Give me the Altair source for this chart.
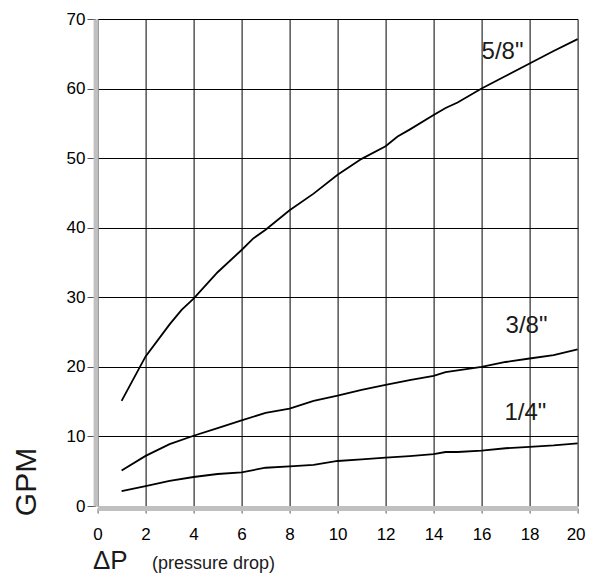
import altair as alt
import pandas as pd

# ---- data ----
x_58 = [1, 2, 3, 3.5, 4, 5, 6, 6.5, 7, 8, 9, 10, 11, 12, 12.5, 13, 14, 14.5, 15, 16, 17, 18, 19, 20]
y_58 = [15.1, 21.5, 26.1, 28.2, 29.8, 33.6, 36.8, 38.5, 39.7, 42.5, 44.9, 47.6, 49.9, 51.7, 53.1, 54.1,
        56.2, 57.2, 58.0, 60.0, 61.8, 63.6, 65.4, 67.1]

x_38 = [1, 2, 3, 4, 5, 6, 7, 8, 9, 10, 11, 12, 13, 14, 14.5, 15, 16, 17, 18, 19, 20]
y_38 = [5.1, 7.2, 8.9, 10.1, 11.2, 12.3, 13.4, 14.0, 15.1, 15.85, 16.7, 17.4, 18.1, 18.7, 19.25, 19.5,
        20.0, 20.7, 21.2, 21.7, 22.5]

x_14 = [1, 2, 3, 4, 5, 6, 7, 8, 9, 10, 11, 12, 13, 14, 14.5, 15, 16, 17, 18, 19, 20]
y_14 = [2.15, 2.87, 3.6, 4.17, 4.6, 4.84, 5.5, 5.7, 5.9, 6.47, 6.7, 6.94, 7.18, 7.47, 7.76, 7.76,
        7.95, 8.3, 8.5, 8.7, 9.0]

series_names = ['5/8"', '3/8"', '1/4"']
label_x = [16.0, 17.0, 16.95]
label_y = [64.2, 24.9, 12.4]

x_ticks = list(range(0, 21))
y_ticks = [0, 10, 20, 30, 40, 50, 60, 70]

# ---- build tables ----
rows = []
for name, xs, ys in zip(series_names, [x_58, x_38, x_14], [y_58, y_38, y_14]):
    for a, b in zip(xs, ys):
        rows.append({"series": name, "dp": a, "gpm": b})
df = pd.DataFrame(rows)
labels = pd.DataFrame({"series": series_names, "dp": label_x, "gpm": label_y})

FONT = "Liberation Sans"
GRAY = "#c0c0c0"

xscale = alt.Scale(domain=[0, 20], nice=False, zero=False)
yscale = alt.Scale(domain=[0, 70], nice=False, zero=True)

x_axis = alt.Axis(
    values=x_ticks, labelExpr="datum.value % 2 === 0 ? datum.label : ''",
    grid=True, gridColor="black", gridOpacity=1, gridWidth=1,
    domainColor=GRAY, domainWidth=5, offset=2,
    tickColor="#555555", tickSize=5, tickWidth=1,
    labelFont=FONT, labelFontSize=17, labelColor="black", labelPadding=13,
    labelOffset={"condition": {"test": "datum.value === 20", "value": -2}, "value": 0},
    labelFlush=False, labelOverlap=False, title=None,
)
y_axis = alt.Axis(
    values=y_ticks,
    grid=True, gridColor="black", gridOpacity=1, gridWidth=1,
    domainColor=GRAY, domainWidth=5, offset=2,
    tickColor="#555555", tickSize=8.6, tickWidth=1,
    labelFont=FONT, labelFontSize=17, labelColor="black", labelPadding=2,
    labelFlush=False, labelOverlap=False, title=None,
)

lines = alt.Chart(df).mark_line(color="black", strokeWidth=1.8).encode(
    x=alt.X("dp:Q", scale=xscale, axis=x_axis),
    y=alt.Y("gpm:Q", scale=yscale, axis=y_axis),
    detail="series:N",
)

curve_labels = alt.Chart(labels).mark_text(
    align="left", baseline="alphabetic", font=FONT, fontSize=24, color="#1a1a1a"
).encode(
    x=alt.X("dp:Q", scale=xscale),
    y=alt.Y("gpm:Q", scale=yscale),
    text="series:N",
)

gpm_title = alt.Chart(pd.DataFrame({"t": ["GPM"]})).mark_text(
    font=FONT, fontSize=30, angle=270, align="center", baseline="middle", color="#1a1a1a"
).encode(text="t:N", x=alt.value(-71), y=alt.value(463))

dp_title = alt.Chart(pd.DataFrame({"t": ["ΔP"]})).mark_text(
    font=FONT, fontSize=26, align="left", baseline="alphabetic", color="#1a1a1a"
).encode(text="t:N", x=alt.value(-4.6), y=alt.value(550))

pd_title = alt.Chart(pd.DataFrame({"t": ["(pressure drop)"]})).mark_text(
    font=FONT, fontSize=18, align="left", baseline="alphabetic", color="#1a1a1a"
).encode(text="t:N", x=alt.value(54.4), y=alt.value(550))

chart = alt.layer(lines, curve_labels, gpm_title, dp_title, pd_title).properties(
    width=480, height=487,
    autosize=alt.AutoSizeParams(type="none"),
    padding={"left": 89.6, "top": 11, "right": 8.4, "bottom": 69},
).configure_view(stroke=None)

chart.save("out.html", embed_options={"renderer": "svg", "actions": False})
